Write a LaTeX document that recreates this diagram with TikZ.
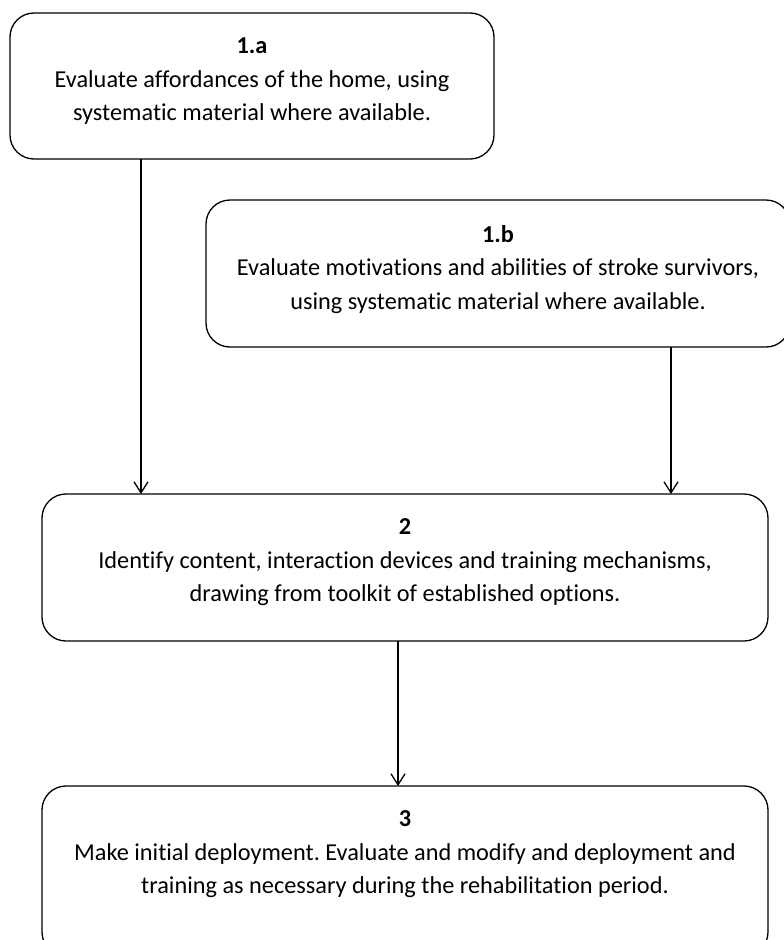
\documentclass[tikz,border=0pt]{standalone}
\usepackage{fontspec}
\setmainfont[Ligatures=NoCommon]{Carlito}
\usetikzlibrary{arrows.meta}
\frenchspacing
\begin{document}
\begin{tikzpicture}[x=1pt,y=1pt,
  box/.style={draw=black, line width=1.3pt, rounded corners=24pt, inner sep=0pt},
  txt/.style={align=center, font=\fontsize{24.3}{33.5}\selectfont, inner sep=0pt, anchor=north, text=black},
  conn/.style={draw=black, line width=1.3pt, -{Straight Barb[length=11pt,width=14pt,line width=1.3pt]}}]
\clip (0,0) rectangle (784,-940);
\useasboundingbox (0,0) rectangle (784,-940);
% boxes
\node[box, minimum width=484pt, minimum height=146pt] (a) at (252,-86) {};
\node[box, minimum width=584pt, minimum height=147pt] (b) at (498,-273.5) {};
\node[box, minimum width=726pt, minimum height=147pt] (c) at (405,-567.5) {};
\node[box, minimum width=726pt, minimum height=170pt] (d) at (405,-871) {};
% texts
\node[txt] (at) at ([yshift=-25.5pt]a.north) {\textbf{1.a}\\Evaluate affordances of the home, using\\systematic material where available.};
\node[txt] (bt) at ([yshift=-25.5pt]b.north) {\textbf{1.b}\\Evaluate motivations and abilities of stroke survivors,\\using systematic material where available.};
\node[txt] (ct) at ([yshift=-25.5pt]c.north) {\textbf{2}\\Identify content, interaction devices and training mechanisms,\\drawing from toolkit of established options.};
\node[txt] (dt) at ([yshift=-25.5pt]d.north) {\textbf{3}\\Make initial deployment. Evaluate and modify and deployment and\\training as necessary during the rehabilitation period.};
% connectors
\coordinate (a1) at (141,-159);
\coordinate (c1) at (141,-494);
\coordinate (b1) at (671,-347);
\coordinate (c2) at (671,-494);
\coordinate (c3) at (398,-641);
\coordinate (d1) at (398,-786);
\draw[conn] (a1) -- (c1);
\draw[conn] (b1) -- (c2);
\draw[conn] (c3) -- (d1);
\end{tikzpicture}
\end{document}
